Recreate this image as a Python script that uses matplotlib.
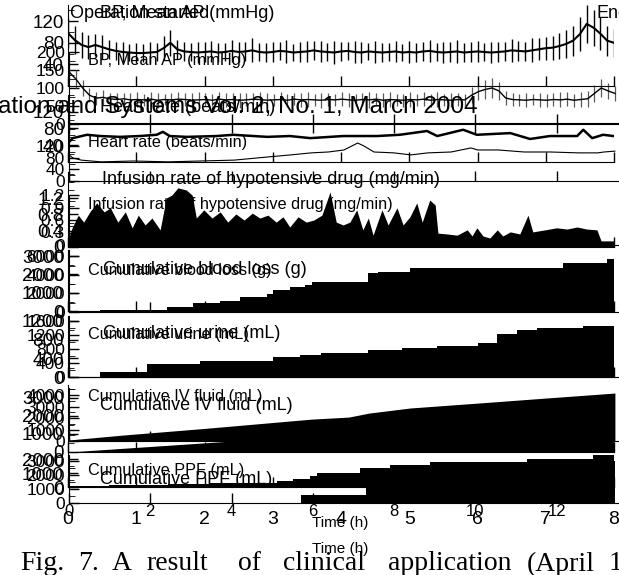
import numpy as np
import matplotlib
matplotlib.use("Agg")
import matplotlib.pyplot as plt
from matplotlib.ticker import AutoMinorLocator

plt.rcParams['font.family'] = ['Liberation Sans', 'DejaVu Sans']

W, H = 619, 575
B_UNIT = 40.65 / 68.25      # one unit of the second time axis, in hours

# ---- data (time in hours) ----
bp_t = np.round(np.arange(0, 8.01, 0.1), 2)
mean_ap_a = [98, 85, 76, 72, 76, 72, 68, 65, 63, 62,
             61, 61, 62, 63, 70, 80, 68, 64, 63, 62,
             63, 64, 62, 63, 65, 63, 64, 66, 63, 62,
             63, 65, 64, 62, 63, 64, 66, 64, 63, 62,
             64, 65, 63, 62, 64, 63, 62, 63, 64, 62,
             63, 62, 64, 65, 63, 62, 63, 64, 62, 63,
             64, 63, 62, 63, 64, 66, 65, 64, 66, 68,
             70, 71, 74, 78, 84, 96, 115, 108, 97, 84, 80]
ap_range_a = [28, 26, 24, 22, 20, 22, 18, 17, 19, 16,
              18, 17, 20, 16, 22, 24, 18, 17, 16, 19,
              18, 20, 17, 16, 21, 18, 17, 22, 16, 18,
              19, 17, 21, 16, 18, 20, 17, 19, 16, 22,
              18, 17, 20, 19, 16, 21, 18, 17, 19, 16,
              20, 18, 17, 21, 16, 19, 18, 22, 17, 18,
              19, 16, 20, 18, 17, 21, 19, 18, 22, 20,
              21, 22, 24, 26, 28, 32, 35, 33, 30, 28, 26]
mean_ap_b = [145, 125, 100, 80, 72, 74, 70, 68, 70, 67,
             68, 67, 69, 66, 68, 67, 69, 68, 66, 67,
             68, 66, 69, 67, 68, 66, 67, 69, 68, 66,
             67, 68, 66, 69, 67, 68, 67, 66, 68, 67,
             69, 67, 66, 68, 67, 69, 66, 68, 67, 66,
             68, 67, 69, 66, 68, 67, 66, 68, 67, 80,
             90, 96, 100, 92, 72, 68, 67, 66, 68, 67,
             66, 68, 67, 69, 66, 68, 70, 85, 100, 92, 85]
ap_range_b = [25, 24, 22, 20, 18, 20, 17, 19, 16, 18,
              20, 17, 19, 21, 16, 18, 20, 17, 19, 22,
              18, 16, 20, 19, 17, 21, 18, 16, 20, 19,
              17, 22, 18, 16, 19, 20, 17, 21, 18, 16,
              19, 20, 17, 18, 22, 16, 19, 21, 17, 18,
              20, 16, 19, 18, 21, 17, 20, 18, 16, 22,
              24, 26, 28, 25, 20, 18, 17, 19, 16, 20,
              18, 17, 21, 19, 18, 20, 22, 24, 26, 22, 20]

hr_a_t = [0.0, 0.07, 0.28, 0.47, 0.76, 1.05, 1.30, 1.39, 1.49, 1.74, 2.18, 2.42, 2.92,
          3.25, 3.55, 4.03, 4.53, 4.86, 5.26, 5.41, 5.79, 5.99, 6.48, 6.77, 7.06, 7.46,
          7.55, 7.68, 7.84, 7.99]
hr_a = [45, 57, 65, 62, 60, 62, 65, 72, 62, 60, 62, 65, 60,
        62, 57, 62, 62, 65, 74, 62, 77, 65, 69, 55, 62, 62,
        77, 57, 65, 62]
hr_b_t = [0.0, 0.06, 0.18, 0.47, 0.95, 1.45, 1.93, 2.42, 2.92, 3.25, 3.55, 3.80, 4.03,
          4.23, 4.32, 4.47, 4.76, 5.01, 5.26, 5.60, 5.89, 5.99, 6.29, 6.67, 7.06, 7.46,
          7.75, 7.84, 8.0]
hr_b = [90, 79, 72, 66, 69, 66, 69, 72, 83, 90, 97, 100, 107,
        131, 121, 100, 97, 90, 97, 100, 114, 107, 107, 100, 100, 97,
        97, 100, 103]

inf_t = [0.0, 0.06, 0.15, 0.23, 0.32, 0.42, 0.53, 0.62, 0.73, 0.84, 0.94, 1.03, 1.13,
         1.23, 1.35, 1.44, 1.52, 1.61, 1.73, 1.82, 1.88, 1.99, 2.11, 2.23, 2.34, 2.46,
         2.58, 2.70, 2.81, 2.93, 3.05, 3.15, 3.25, 3.37, 3.49, 3.60, 3.72, 3.84, 3.93,
         4.03, 4.13, 4.23, 4.32, 4.40, 4.47, 4.60, 4.69, 4.82, 4.91, 5.01, 5.11, 5.19,
         5.30, 5.38, 5.42, 5.55, 5.70, 5.85, 5.92, 5.99, 6.08, 6.18, 6.29, 6.37, 6.48,
         6.62, 6.74, 6.81, 6.99, 7.16, 7.31, 7.46, 7.60, 7.75, 7.81, 8.0]
inf_rate = [0.17, 0.47, 0.78, 0.61, 0.86, 1.08, 0.86, 0.96, 0.61, 0.86, 0.47, 0.78, 0.54,
            0.71, 0.42, 1.20, 1.27, 1.45, 1.40, 1.27, 0.71, 0.91, 0.71, 0.86, 0.61, 0.81,
            0.66, 0.83, 0.71, 0.78, 0.61, 0.74, 0.49, 0.74, 0.61, 0.66, 0.78, 1.35, 0.61,
            0.54, 0.61, 0.91, 0.42, 0.71, 0.29, 0.91, 0.54, 0.96, 0.54, 0.74, 1.08, 0.61,
            1.15, 1.03, 0.34, 0.32, 0.29, 0.42, 0.27, 0.47, 0.27, 0.22, 0.42, 0.27, 0.37,
            0.32, 0.78, 0.37, 0.42, 0.47, 0.44, 0.49, 0.44, 0.42, 0.15, 0.15]

blood_t = [0, 0.47, 1.45, 1.83, 2.23, 2.52, 2.92, 3.0, 3.25, 3.47, 3.58, 4.40, 4.54, 5.01,
           7.25, 7.90, 8.0]
blood_g = [0, 50, 220, 430, 550, 770, 930, 1150, 1310, 1420, 1585, 2080, 2130, 2350,
           2620, 2840, 2840]

urine_t = [0, 0.47, 1.16, 1.94, 3.0, 3.4, 3.7, 4.4, 4.9, 5.4, 6.0, 6.29, 6.58, 6.87, 7.55, 8.0]
urine_ml = [0, 107, 280, 345, 430, 470, 515, 580, 620, 665, 730, 920, 1005, 1050, 1090, 1090]

iv_a_t = [0, 2.4, 4.0, 6.0, 8.0]
iv_a_ml = [0, 610, 1100, 1800, 2400]
iv_b_t = [0, 0.8, 2.0, 3.55, 4.1, 4.4, 5.0, 6.0, 7.0, 8.0]
iv_b_ml = [90, 520, 1100, 1900, 2080, 2430, 2870, 3300, 3740, 4170]

ppf_a_t = [0, 0.6, 1.47, 2.08, 3.06, 3.3, 3.55, 3.65, 4.28, 4.72, 5.3, 6.73, 7.69, 8.0]
ppf_a_ml = [40, 110, 200, 290, 430, 570, 790, 1000, 1350, 1600, 1800, 2000, 2300, 2300]
ppf_b_t = [0, 3.4, 4.35, 4.8, 6.0, 7.5, 8.0]
ppf_b_ml = [0, 570, 1140, 1600, 2300, 3000, 3000]

a_hours = list(range(0, 9))
b_ticks = list(range(0, 15, 2))
caption_words = ["Fig.", "7.", "A", "result", "of", "clinical", "application", "(April", "15"]
caption_x = [20, 78, 112, 146, 238, 283, 388, 527, 609]

fig = plt.figure(figsize=(W / 100, H / 100), dpi=100)


def px_axes(x0, x1, y0, y1):
    return fig.add_axes([x0 / W, 1 - y1 / H, (x1 - x0) / W, (y1 - y0) / H])


def ftext(x, y, s, size, **kw):
    fig.text(x / W, 1 - y / H, s, fontsize=size, va='center', **kw)


def ylabels(ax, ticks):
    ax.set_yticks(ticks)
    ax.set_yticklabels([('%g' % v) for v in ticks])


def layer_a(y0, y1, ylim, yticks, last=False):
    ax = px_axes(68, 614, y0, y1)
    ax.patch.set_visible(False)
    ax.spines['top'].set_visible(False)
    ax.spines['right'].set_visible(False)
    ax.set_xlim(0, 8)
    ax.set_ylim(*ylim)
    ax.set_xticks(a_hours)
    ylabels(ax, yticks)
    ax.yaxis.set_minor_locator(AutoMinorLocator(2))
    ax.tick_params(direction='in', length=7, width=1, labelsize=13.5, pad=3)
    ax.tick_params(which='minor', direction='in', length=4)
    ax.tick_params(axis='x', labelbottom=last, labelsize=14, pad=17)
    return ax


def layer_b(y0, y1, ylim, yticks, last=False, top=False):
    ax = px_axes(69, 638, y0, y1)
    ax.patch.set_visible(False)
    ax.spines['top'].set_visible(top)
    ax.spines['right'].set_visible(False)
    ax.set_xlim(0, 14 * B_UNIT)
    ax.set_ylim(*ylim)
    ax.set_xticks([k * B_UNIT for k in b_ticks])
    ax.set_xticklabels([str(k) for k in b_ticks])
    ylabels(ax, yticks)
    ax.yaxis.set_minor_locator(AutoMinorLocator(2))
    ax.tick_params(direction='in', length=7, width=1, labelsize=12.5, pad=3, top=top)
    ax.tick_params(which='minor', direction='in', length=4)
    ax.tick_params(axis='x', labelbottom=last, labelsize=12, pad=1)
    return ax


# ---- second (offset) copy of the figure ----
b1 = layer_b(52, 124, (0, 200), [0, 50, 100, 150, 200])
b1.errorbar(bp_t, mean_ap_b, yerr=ap_range_b, color='k', lw=1.0,
            ecolor='0.35', elinewidth=0.9, capsize=0)
b2 = layer_b(123, 181, (0, 200), [0, 40, 80, 120], top=True)
b2.plot(hr_b_t, hr_b, color='k', lw=0.8)
b3 = layer_b(195, 245, (0, 1.2), [0, 0.3, 0.6, 0.9, 1.2])
b4 = layer_b(250, 312, (0, 6667), [0, 2000, 4000, 6000])
b5 = layer_b(316, 377, (0, 1743), [0, 400, 800, 1200, 1600])
b6 = layer_b(388, 441, (0, 4609), [0, 1000, 2000, 3000, 4000])
b6.fill_between(iv_b_t, iv_b_ml, color='k', lw=0)
b7 = layer_b(455, 503, (0, 3430), [0, 1000, 2000, 3000], last=True)
b7.fill_between(ppf_b_t, ppf_b_ml, step='post', color='k', lw=0)

# ---- main copy ----
a1 = layer_a(5, 86, (0, 150), [40, 80, 120])
a1.errorbar(bp_t, mean_ap_a, yerr=ap_range_a, color='k', lw=1.5,
            elinewidth=1.0, capsize=0)
a2 = layer_a(95, 162, (0, 160), [40, 80, 120])
a2.plot(hr_a_t, hr_a, color='k', lw=1.8)
a3 = layer_a(172, 247, (0, 1.838), [0, 0.4, 0.8, 1.2])
a3.fill_between(inf_t, inf_rate, color='k', lw=0)
a4 = layer_a(250, 311, (0, 3333), [0, 1000, 2000, 3000])
a4.fill_between(blood_t, blood_g, step='post', color='k', lw=0)
a5 = layer_a(316, 377, (0, 1306), [0, 400, 800, 1200])
a5.fill_between(urine_t, urine_ml, step='post', color='k', lw=0)
a6 = layer_a(385, 452, (0, 3722), [0, 1000, 2000, 3000])
a6.fill_between(iv_a_t, iv_a_ml, color='k', lw=0)
a7 = layer_a(450, 487, (0, 2643), [0, 1000, 2000], last=True)
a7.fill_between(ppf_a_t, ppf_a_ml, step='post', color='k', lw=0)

# ---- texts ----
ftext(70, 14, "Operation started", 13)
ftext(596, 14, "End", 13)
ftext(100, 14, "BP, Mean AP (mmHg)", 13)
ftext(88, 60, "BP, Mean AP (mmHg)", 11.7)
ftext(100, 108, "Heart rate (beats/min)", 13)
ftext(88, 142, "Heart rate (beats/min)", 11.7)
ftext(102, 180, "Infusion rate of hypotensive drug (mg/min)", 13)
ftext(88, 205, "Infusion rate of hypotensive drug (mg/min)", 11.7)
ftext(88, 270, "Cumulative blood loss (g)", 11.7)
ftext(103, 270, "Cumulative blood loss (g)", 13)
ftext(88, 334, "Cumulative urine (mL)", 11.7)
ftext(103, 334, "Cumulative urine (mL)", 13)
ftext(88, 397, "Cumulative IV fluid (mL)", 11.7)
ftext(100, 405, "Cumulative IV fluid (mL)", 13)
ftext(88, 470, "Cumulative PPF (mL)", 11.7)
ftext(100, 479, "Cumulative PPF (mL)", 13)
ftext(340, 523, "Time (h)", 11, ha='center')
ftext(340, 549, "Time (h)", 11, ha='center')
ftext(478, 107, "ation and Systems Vol. 2, No. 1, March 2004", 17.5, ha='right')
for word, x in zip(caption_words, caption_x):
    ftext(x, 564, word, 20, family='Liberation Serif')

fig.savefig("out.png", dpi=100)
